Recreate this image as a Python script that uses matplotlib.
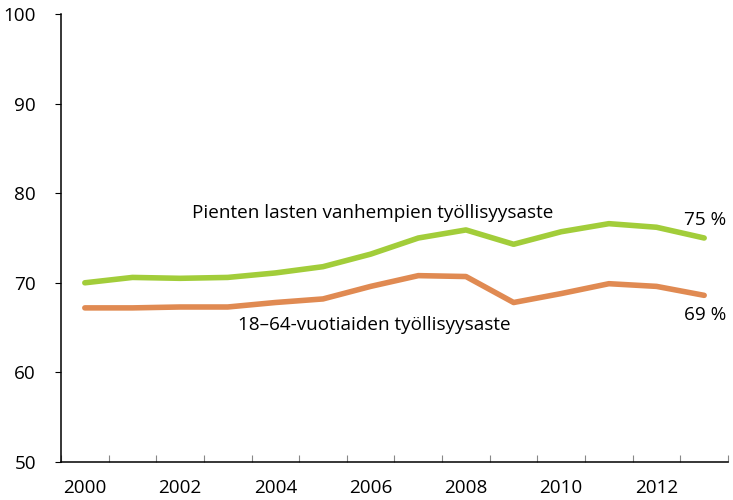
import matplotlib.pyplot as plt
import numpy as np

# employment rates, %
years = list(range(2000, 2014))
parents = [70.0, 70.6, 70.5, 70.6, 71.1, 71.8, 73.2, 75.0, 75.9, 74.3, 75.7, 76.6, 76.2, 75.0]
age_18_64 = [67.2, 67.2, 67.3, 67.3, 67.8, 68.2, 69.6, 70.8, 70.7, 67.8, 68.8, 69.9, 69.6, 68.6]

plt.rcParams['font.family'] = ['Open Sans', 'DejaVu Sans']
fs = 13.6

fig = plt.figure(figsize=(7.33, 5), dpi=100)
ax = fig.add_axes([61 / 733, 38 / 500, 667 / 733, 448 / 500])

x = np.arange(len(years))
ax.plot(x, parents, color='#a2cd3a', lw=4, solid_capstyle='round', solid_joinstyle='round')
ax.plot(x, age_18_64, color='#e08a52', lw=4, solid_capstyle='round', solid_joinstyle='round')

ax.set_xlim(-0.5, len(years) - 0.5)
ax.set_ylim(50, 100)
ax.set_yticks(range(50, 101, 10))
ax.tick_params(axis='y', direction='out', length=4, width=0.8, labelsize=fs, pad=14)

# year labels every other year, tick marks between categories
ax.set_xticks(x[::2])
ax.set_xticklabels([str(y) for y in years[::2]])
ax.set_xticks(np.arange(len(years) + 1) - 0.5, minor=True)
ax.tick_params(axis='x', which='major', length=0, labelsize=fs, pad=12)
ax.tick_params(axis='x', which='minor', direction='in', length=5, width=0.8, color='#888888')

for side in ['top', 'right']:
    ax.spines[side].set_visible(False)
ax.spines['left'].set_linewidth(1.1)
ax.spines['bottom'].set_linewidth(1.1)

ax.text(6.05, 77.8, 'Pienten lasten vanhempien työllisyysaste', ha='center', va='center', fontsize=fs)
ax.text(6.08, 65.3, '18–64-vuotiaiden työllisyysaste', ha='center', va='center', fontsize=fs)
ax.text(13.03, 77.0, '%d %%' % round(parents[-1]), ha='center', va='center', fontsize=fs)
ax.text(13.03, 66.4, '%d %%' % round(age_18_64[-1]), ha='center', va='center', fontsize=fs)

fig.savefig('out.png', dpi=100)
